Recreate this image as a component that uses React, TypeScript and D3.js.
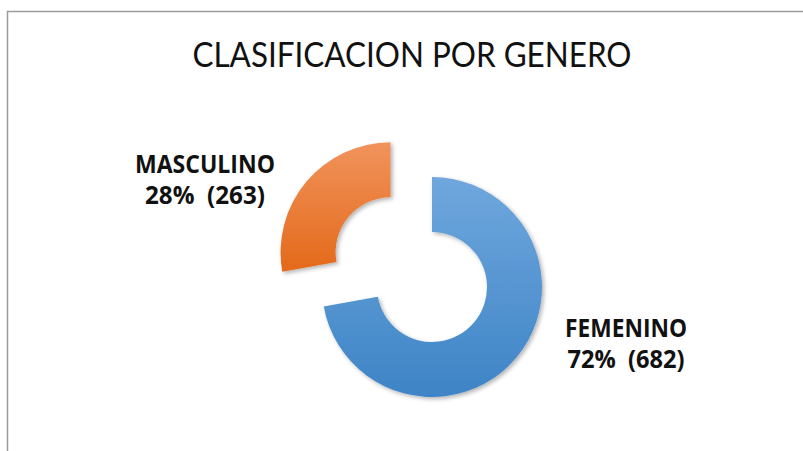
import React, { useEffect, useRef } from 'react';
import * as d3 from 'd3';

const categories = ['FEMENINO', 'MASCULINO'];
const values = [682, 263];
const title = 'CLASIFICACION POR GENERO';

const colors: Record<string, [string, string]> = {
  FEMENINO: ['#6fa7dd', '#3e84c6'],
  MASCULINO: ['#f1935c', '#e4691a'],
};

const App: React.FC = () => {
  const chartRef = useRef<SVGSVGElement | null>(null);

  useEffect(() => {
    if (chartRef.current) {
      drawChart();
    }
  }, []);

  const drawChart = () => {
    const svg = d3.select(chartRef.current);
    svg.selectAll('*').remove();

    const width = 803;
    const height = 451;
    const cx = 432;
    const cy = 287;
    const outer = 110;
    const inner = 55;
    const explode = 54;

    const total = d3.sum(values);
    const data = categories.map((c, i) => ({ category: c, value: values[i] }));

    const defs = svg.append('defs');
    categories.forEach((c, i) => {
      const g = defs.append('linearGradient')
        .attr('id', `grad${i}`)
        .attr('x1', 0).attr('y1', 0).attr('x2', 0).attr('y2', 1);
      g.append('stop').attr('offset', '0%').attr('stop-color', colors[c][0]);
      g.append('stop').attr('offset', '100%').attr('stop-color', colors[c][1]);
    });
    const shadow = defs.append('filter')
      .attr('id', 'shadow')
      .attr('x', '-20%').attr('y', '-20%')
      .attr('width', '140%').attr('height', '140%');
    shadow.append('feDropShadow')
      .attr('dx', 2).attr('dy', 2)
      .attr('stdDeviation', 2)
      .attr('flood-color', '#000')
      .attr('flood-opacity', 0.3);

    // chart area frame
    svg.append('rect')
      .attr('x', 7.5)
      .attr('y', 11.5)
      .attr('width', width + 20)
      .attr('height', height + 20)
      .attr('fill', 'none')
      .attr('stroke', '#9b9b9b')
      .attr('stroke-width', 1.5);

    svg.append('text')
      .attr('x', 412)
      .attr('y', 67)
      .attr('text-anchor', 'middle')
      .attr('font-family', 'Lato, "Open Sans", sans-serif')
      .attr('font-size', 35)
      .attr('textLength', 439)
      .attr('lengthAdjust', 'spacingAndGlyphs')
      .attr('fill', '#111')
      .text(title);

    const pie = d3.pie<{ category: string; value: number }>()
      .sort(null)
      .value(d => d.value);
    const arc = d3.arc<d3.PieArcDatum<{ category: string; value: number }>>()
      .innerRadius(inner)
      .outerRadius(outer);

    const arcs = pie(data);

    svg.append('g')
      .attr('transform', `translate(${cx},${cy})`)
      .selectAll('path')
      .data(arcs)
      .enter().append('path')
      .attr('d', d => arc(d) || '')
      .attr('fill', (d, i) => `url(#grad${i})`)
      .attr('filter', 'url(#shadow)')
      .attr('transform', d => {
        if (d.data.category !== 'MASCULINO') return null;
        const mid = (d.startAngle + d.endAngle) / 2;
        return `translate(${Math.sin(mid) * explode},${-Math.cos(mid) * explode})`;
      });

    const labelPos: Record<string, [number, number]> = {
      FEMENINO: [626, 337],
      MASCULINO: [205, 173],
    };
    const nameWidth: Record<string, number> = { FEMENINO: 122, MASCULINO: 140 };
    const valWidth: Record<string, number> = { FEMENINO: 117, MASCULINO: 120 };

    arcs.forEach(d => {
      const [lx, ly] = labelPos[d.data.category];
      const pct = Math.round((d.data.value / total) * 100);
      const g = svg.append('g')
        .attr('font-family', '"Open Sans", Lato, sans-serif')
        .attr('font-weight', 'bold')
        .attr('font-size', 25)
        .attr('fill', '#111')
        .attr('text-anchor', 'middle');
      g.append('text')
        .attr('x', lx)
        .attr('y', ly)
        .attr('textLength', nameWidth[d.data.category])
        .attr('lengthAdjust', 'spacingAndGlyphs')
        .text(d.data.category);
      g.append('text')
        .attr('x', lx)
        .attr('y', ly + 31)
        .attr('textLength', valWidth[d.data.category])
        .attr('lengthAdjust', 'spacingAndGlyphs')
        .style('white-space', 'pre')
        .text(`${pct}%  (${d.data.value})`);
    });
  };

  return (
    <svg
      ref={chartRef}
      width={803}
      height={451}
      style={{ position: 'absolute', left: 0, top: 0, background: '#fff' }}
    ></svg>
  );
};

export default App;
